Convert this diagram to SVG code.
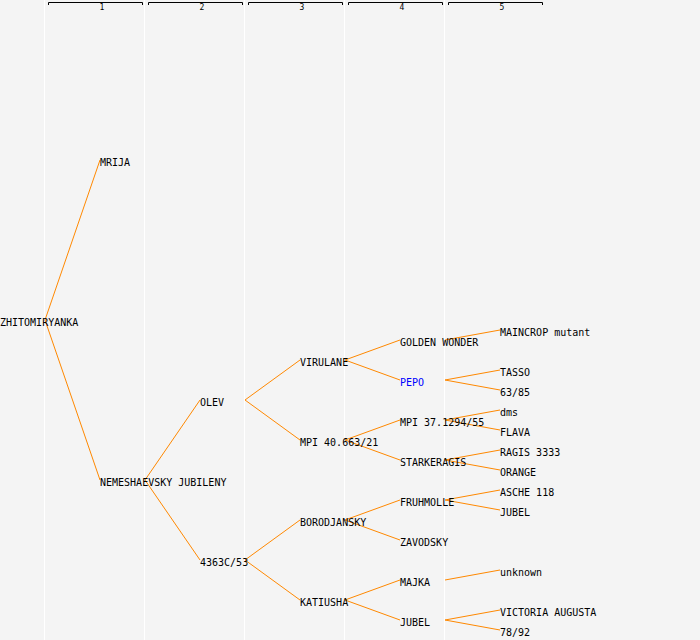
<svg xmlns="http://www.w3.org/2000/svg" width="700" height="640" viewBox="0 0 700 640">
<style>
text{font-family:"DejaVu Sans Mono","Liberation Mono",monospace;font-size:10px;fill:#000}
.blue{fill:#0000ff}
.hdr{font-size:8px;text-anchor:middle}
.grid line{stroke:#ffffff;stroke-width:1}
.br{fill:none;stroke:#000;stroke-width:1}
#connectors line{stroke:#ff8800;stroke-width:1}
</style>
<rect x="0" y="0" width="700" height="640" fill="#f4f4f4"/>
<g class="grid">
<line x1="44.5" y1="0" x2="44.5" y2="640"/>
<line x1="144.5" y1="0" x2="144.5" y2="640"/>
<line x1="244.5" y1="0" x2="244.5" y2="640"/>
<line x1="344.5" y1="0" x2="344.5" y2="640"/>
<line x1="444.5" y1="0" x2="444.5" y2="640"/>
</g>
<g id="header">
<path class="br" d="M48.5,5 V2.5 H142.5 V5"/>
<path class="br" d="M148.5,5 V2.5 H242.5 V5"/>
<path class="br" d="M248.5,5 V2.5 H342.5 V5"/>
<path class="br" d="M348.5,5 V2.5 H442.5 V5"/>
<path class="br" d="M448.5,5 V2.5 H542.5 V5"/>
<text class="hdr" x="102" y="10">1</text>
<text class="hdr" x="202" y="10">2</text>
<text class="hdr" x="302" y="10">3</text>
<text class="hdr" x="402" y="10">4</text>
<text class="hdr" x="502" y="10">5</text>
</g>
<g id="connectors">
<line x1="45" y1="320" x2="100" y2="160"/>
<line x1="45" y1="320" x2="100" y2="480"/>
<line x1="145" y1="480" x2="200" y2="400"/>
<line x1="145" y1="480" x2="200" y2="560"/>
<line x1="245" y1="400" x2="300" y2="360"/>
<line x1="245" y1="400" x2="300" y2="440"/>
<line x1="245" y1="560" x2="300" y2="520"/>
<line x1="245" y1="560" x2="300" y2="600"/>
<line x1="345" y1="360" x2="400" y2="340"/>
<line x1="345" y1="360" x2="400" y2="380"/>
<line x1="345" y1="440" x2="400" y2="420"/>
<line x1="345" y1="440" x2="400" y2="460"/>
<line x1="345" y1="520" x2="400" y2="500"/>
<line x1="345" y1="520" x2="400" y2="540"/>
<line x1="345" y1="600" x2="400" y2="580"/>
<line x1="345" y1="600" x2="400" y2="620"/>
<line x1="445" y1="340" x2="500" y2="330"/>
<line x1="445" y1="380" x2="500" y2="370"/>
<line x1="445" y1="380" x2="500" y2="390"/>
<line x1="445" y1="420" x2="500" y2="410"/>
<line x1="445" y1="420" x2="500" y2="430"/>
<line x1="445" y1="460" x2="500" y2="450"/>
<line x1="445" y1="460" x2="500" y2="470"/>
<line x1="445" y1="500" x2="500" y2="490"/>
<line x1="445" y1="500" x2="500" y2="510"/>
<line x1="445" y1="580" x2="500" y2="570"/>
<line x1="445" y1="620" x2="500" y2="610"/>
<line x1="445" y1="620" x2="500" y2="630"/>
</g>
<g id="n-zhitomiryanka"><text x="0" y="326">ZHITOMIRYANKA</text></g>
<g id="n-mrija"><text x="100" y="166">MRIJA</text></g>
<g id="n-nemeshaevsky"><text x="100" y="486">NEMESHAEVSKY JUBILENY</text></g>
<g id="n-olev"><text x="200" y="406">OLEV</text></g>
<g id="n-4363c53"><text x="200" y="566">4363C/53</text></g>
<g id="n-virulane"><text x="300" y="366">VIRULANE</text></g>
<g id="n-mpi40"><text x="300" y="446">MPI 40.663/21</text></g>
<g id="n-borodjansky"><text x="300" y="526">BORODJANSKY</text></g>
<g id="n-katiusha"><text x="300" y="606">KATIUSHA</text></g>
<g id="n-golden"><text x="400" y="346">GOLDEN WONDER</text></g>
<g id="n-pepo"><text class="blue" x="400" y="386">PEPO</text></g>
<g id="n-mpi37"><text x="400" y="426">MPI 37.1294/55</text></g>
<g id="n-starkeragis"><text x="400" y="466">STARKERAGIS</text></g>
<g id="n-fruhmolle"><text x="400" y="506">FRUHMOLLE</text></g>
<g id="n-zavodsky"><text x="400" y="546">ZAVODSKY</text></g>
<g id="n-majka"><text x="400" y="586">MAJKA</text></g>
<g id="n-jubel1"><text x="400" y="626">JUBEL</text></g>
<g id="n-maincrop"><text x="500" y="336">MAINCROP mutant</text></g>
<g id="n-tasso"><text x="500" y="376">TASSO</text></g>
<g id="n-6385"><text x="500" y="396">63/85</text></g>
<g id="n-dms"><text x="500" y="416">dms</text></g>
<g id="n-flava"><text x="500" y="436">FLAVA</text></g>
<g id="n-ragis"><text x="500" y="456">RAGIS 3333</text></g>
<g id="n-orange"><text x="500" y="476">ORANGE</text></g>
<g id="n-asche"><text x="500" y="496">ASCHE 118</text></g>
<g id="n-jubel2"><text x="500" y="516">JUBEL</text></g>
<g id="n-unknown"><text x="500" y="576">unknown</text></g>
<g id="n-victoria"><text x="500" y="616">VICTORIA AUGUSTA</text></g>
<g id="n-7892"><text x="500" y="636">78/92</text></g>
</svg>
